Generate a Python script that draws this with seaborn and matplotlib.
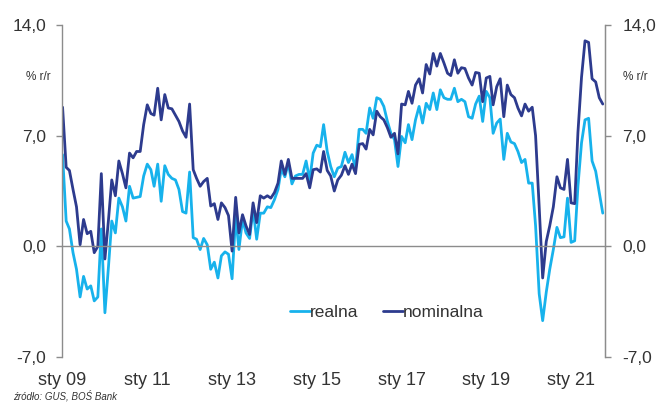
import matplotlib
matplotlib.use("Agg")
import matplotlib.pyplot as plt
import numpy as np
import pandas as pd
import seaborn as sns

# monthly y/y, Jan 2009 - Oct 2021
months = pd.date_range("2009-01-01", periods=154, freq="MS")

nominalna = [
    8.8, 5.0, 4.8, 3.6, 2.5, 0.1, 1.7, 0.8, 0.95, -0.4, 0.0, 4.6,
    -0.8, 1.7, 4.2, 3.2, 5.4, 4.6, 3.7, 5.9, 5.6, 6.0, 6.0, 7.7,
    8.95, 8.4, 8.3, 10.0, 8.0, 9.6, 8.75, 8.7, 8.3, 7.9, 7.3, 6.9,
    9.0, 4.85, 4.3, 3.8, 4.1, 4.3, 2.55, 2.7, 1.7, 2.75, 2.45, 1.95,
    -0.3, 3.1, 0.85, 2.0, 1.3, 0.75, 2.75, 1.5, 3.2, 3.05, 3.2, 3.05,
    3.4, 4.0, 5.4, 4.55, 5.5, 4.3, 4.3, 4.3, 4.3, 4.6, 3.7, 4.85,
    4.9, 4.7, 6.0, 4.8, 4.45, 3.5, 4.2, 4.5, 5.1, 4.55, 5.2, 4.6,
    6.45, 6.5, 6.15, 7.4, 7.05, 8.55, 8.2, 8.0, 7.5, 6.9, 7.15, 5.85,
    9.0, 8.95, 9.8, 9.05, 10.2, 10.6, 9.7, 11.5, 10.9, 12.2, 11.4, 12.2,
    11.6, 10.95, 10.8, 11.8, 10.95, 11.3, 11.25, 10.65, 10.2, 11.0, 10.95, 9.15,
    10.65, 10.75, 8.95, 10.1, 10.6, 8.2, 10.2, 9.6, 9.4, 8.75, 8.25, 9.0,
    8.55, 8.8, 7.0, 2.5, -2.0, 0.3, 1.3, 2.5, 4.4, 3.7, 3.6, 5.5,
    2.75, 2.7, 7.2, 10.7, 13.0, 12.9, 10.6, 10.4, 9.4, 9.0,
]

realna = [
    5.8, 1.6, 1.1, -0.4, -1.45, -3.2, -1.9, -2.7, -2.5, -3.45, -3.2, 1.1,
    -4.2, -1.25, 1.6, 0.85, 3.05, 2.5, 1.6, 3.8, 3.05, 3.1, 3.15, 4.45,
    5.2, 4.85, 3.8, 5.2, 2.85, 5.1, 4.55, 4.3, 4.2, 3.6, 2.2, 2.1,
    4.7, 0.55, 0.45, -0.2, 0.5, 0.1, -1.45, -1.0, -2.0, -0.6, -0.35, -0.5,
    -2.05, 1.9, -0.2, 1.7, 0.85, 0.5, 2.35, 0.45, 2.1, 2.1, 2.5, 2.45,
    2.95, 3.6, 4.9, 4.4, 5.25, 3.95, 4.45, 4.55, 4.55, 5.4, 4.2, 5.9,
    6.4, 6.3, 7.7, 6.0, 5.05, 4.4, 4.95, 5.05, 5.95, 5.3, 5.8, 4.9,
    7.4, 7.4, 7.15, 8.75, 8.1, 9.4, 9.3, 8.85, 7.9, 7.15, 6.75, 5.05,
    6.95, 6.55, 7.7, 6.75, 8.0, 8.85, 7.8, 9.05, 8.65, 9.7, 8.65, 9.9,
    9.4, 9.3, 9.3, 10.0, 9.15, 9.3, 9.15, 8.2, 8.1, 9.0, 9.5, 7.9,
    9.8, 9.4, 7.15, 7.8, 8.05, 5.5, 7.15, 6.6, 6.5, 6.0, 5.3, 5.5,
    4.0, 4.0, 1.3, -3.0, -4.7, -2.9, -1.45, -0.2, 1.2, 0.55, 0.6, 3.05,
    0.25, 0.35, 3.8, 6.55, 8.0, 8.1, 5.4, 4.75, 3.4, 2.1,
]

y_ticks = [-7, 0, 7, 14]
y_labels = ["-7,0", "0,0", "7,0", "14,0"]
x_ticks = pd.to_datetime(["2009-01-01", "2011-01-01", "2013-01-01", "2015-01-01",
                          "2017-01-01", "2019-01-01", "2021-01-01"])
x_labels = ["sty 09", "sty 11", "sty 13", "sty 15", "sty 17", "sty 19", "sty 21"]

sns.set_style("white")
plt.rcParams["font.family"] = ["Liberation Sans", "DejaVu Sans"]

TXT = "#333333"
GREY = "#8c8c8c"
FS = 12.5

df = pd.DataFrame({"data": list(months) * 2,
                   "val": realna + nominalna,
                   "seria": ["realna"] * len(realna) + ["nominalna"] * len(nominalna)})

fig = plt.figure(figsize=(6.56, 4.04), dpi=100)
ax = fig.add_axes([0.0945, 0.1163, 0.8277, 0.8218])

sns.lineplot(data=df, x="data", y="val", hue="seria", hue_order=["realna", "nominalna"],
             palette=["#17b2ec", "#2d3b8e"], linewidth=2.0, ax=ax)

ax.set_ylim(-7, 14)
ax.set_xlim(pd.Timestamp("2008-12-27"), pd.Timestamp("2021-10-20"))
ax.set_xlabel("")
ax.set_ylabel("")

# x axis sits on zero line, labels below the plot
ax.spines["bottom"].set_position(("data", 0))
ax.spines["top"].set_visible(False)
for s in ["bottom", "left", "right"]:
    ax.spines[s].set_color(GREY)
    ax.spines[s].set_linewidth(1.0)
ax.set_xticks(x_ticks)
ax.tick_params(axis="x", direction="out", length=4, color=GREY, labelbottom=False)

sec = ax.secondary_xaxis("bottom")
sec.set_xticks(x_ticks)
sec.set_xticklabels(x_labels)
sec.tick_params(length=0, pad=11, labelsize=13, labelcolor=TXT)
sec.spines["bottom"].set_visible(False)

ax.set_yticks(y_ticks)
ax.set_yticklabels(y_labels)
ax.tick_params(axis="y", direction="out", length=4.5, width=1, color=GREY, pad=7,
               labelsize=FS, labelcolor=TXT, left=True)

ax2 = ax.twinx()
ax2.set_ylim(-7, 14)
ax2.set_yticks(y_ticks)
ax2.set_yticklabels(y_labels)
ax2.tick_params(axis="y", direction="out", length=4.5, width=1, color=GREY, pad=8,
                labelsize=FS, labelcolor=TXT)
for s in ["top", "bottom", "left"]:
    ax2.spines[s].set_visible(False)
ax2.spines["right"].set_color(GREY)

leg = ax.legend(loc="center", bbox_to_anchor=(0.598, 0.133), ncol=2, frameon=False,
                fontsize=FS, handlelength=1.15, handletextpad=0.0, columnspacing=1.4)
for t in leg.get_texts():
    t.set_color(TXT)

fig.text(0.040, 0.810, "% r/r", fontsize=8.5, color=TXT, ha="left", va="center")
fig.text(0.950, 0.810, "% r/r", fontsize=8.5, color=TXT, ha="left", va="center")
fig.text(0.020, 0.006, "źródło: GUS, BOŚ Bank", fontsize=7, style="italic", color=TXT,
         ha="left", va="bottom")

fig.savefig("out.png", dpi=100)
